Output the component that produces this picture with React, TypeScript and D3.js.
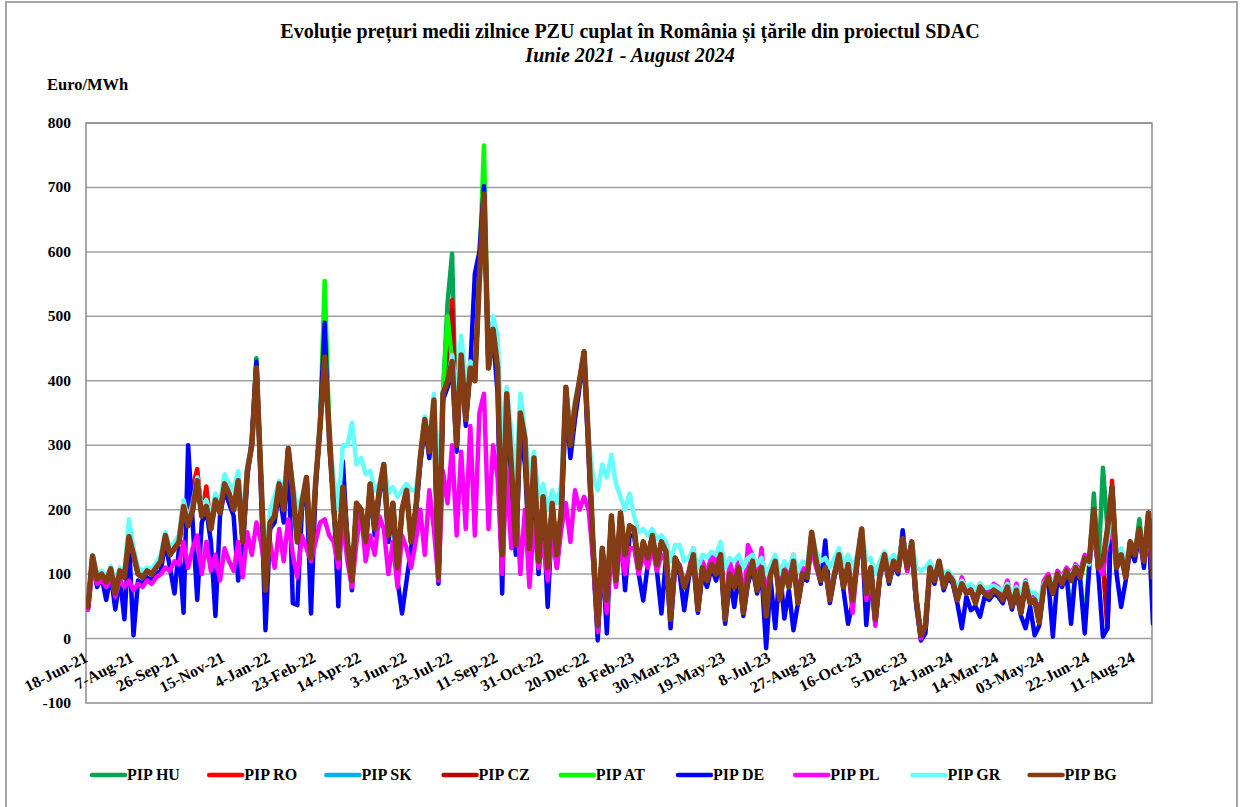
import React from 'react';
import * as d3 from 'd3';

// ---- categories ----
const START = new Date(2021, 5, 18);
const STEP_DAYS = 5;
const END_DAY = 1170;
const TICK_STEP_DAYS = 50;
const TICK_LABELS = ['18-Jun-21', '7-Aug-21', '26-Sep-21', '15-Nov-21', '4-Jan-22', '23-Feb-22', '14-Apr-22', '3-Jun-22', '23-Jul-22', '11-Sep-22', '31-Oct-22', '20-Dec-22', '8-Feb-23', '30-Mar-23', '19-May-23', '8-Jul-23', '27-Aug-23', '16-Oct-23', '5-Dec-23', '24-Jan-24', '14-Mar-24', '03-May-24', '22-Jun-24', '11-Aug-24'];
const Y_TICKS = [-100, 0, 100, 200, 300, 400, 500, 600, 700, 800];

// ---- series (Euro/MWh, one value every 5 days) ----
const BG = [
  50, 128, 92, 100, 88, 108, 70, 105, 95, 158,
  130, 100, 95, 105, 100, 110, 120, 160, 130, 140,
  150, 205, 175, 200, 245, 190, 205, 170, 215, 195,
  240, 225, 200, 245, 150, 260, 300, 420, 250, 75,
  180, 190, 240, 200, 295, 230, 150, 210, 250, 125,
  240, 330, 437, 320, 200, 125, 235, 150, 90, 210,
  200, 150, 240, 170, 230, 270, 160, 210, 110, 200,
  230, 150, 200, 280, 340, 290, 370, 95, 380, 400,
  430, 300, 440, 340, 420, 400, 560, 690, 420, 480,
  420, 130, 380, 270, 145, 350, 310, 140, 280, 120,
  220, 110, 210, 130, 200, 390, 300, 360, 400, 445,
  300, 140, 20, 140, 60, 190, 90, 195, 130, 175,
  170, 110, 150, 125, 160, 115, 150, 135, 30, 125,
  110, 80, 100, 130, 45, 110, 90, 115, 100, 130,
  30, 100, 80, 110, 40, 95, 120, 75, 110, 35,
  100, 120, 60, 105, 80, 120, 55, 100, 95, 165,
  120, 90, 110, 60, 100, 130, 80, 115, 60, 120,
  170, 70, 110, 30, 100, 130, 90, 120, 105, 155,
  110, 150, 60, 5, 20, 110, 90, 120, 80, 100,
  90, 60, 85, 70, 75, 55, 80, 70, 65, 75,
  70, 60, 80, 50, 75, 40, 85, 55, 60, 25,
  80, 95, 70, 100, 85, 105, 90, 110, 95, 125,
  120, 200, 110, 120, 170, 235, 110, 130, 95, 150,
  130, 170, 120, 195, 95,
];

const HU = [
  50, 128, 92, 100, 88, 108, 70, 105, 95, 158,
  130, 100, 95, 105, 100, 110, 120, 160, 130, 140,
  150, 205, 175, 200, 245, 190, 205, 170, 215, 195,
  240, 225, 200, 245, 150, 260, 300, 435, 250, 75,
  180, 190, 240, 200, 295, 230, 150, 210, 250, 125,
  240, 330, 500, 320, 200, 125, 235, 150, 90, 210,
  200, 150, 240, 170, 230, 270, 160, 210, 110, 200,
  230, 150, 200, 280, 340, 290, 370, 95, 380, 521,
  597, 300, 440, 340, 420, 400, 560, 690, 420, 480,
  420, 130, 380, 270, 145, 350, 310, 140, 280, 120,
  220, 110, 210, 130, 200, 390, 300, 360, 400, 445,
  300, 140, 20, 140, 60, 190, 90, 195, 130, 175,
  170, 110, 150, 125, 160, 115, 150, 135, 30, 125,
  110, 80, 100, 130, 45, 110, 90, 115, 100, 130,
  30, 100, 80, 110, 40, 95, 120, 75, 110, 35,
  100, 120, 60, 105, 80, 120, 55, 100, 95, 165,
  120, 90, 110, 60, 100, 130, 80, 115, 60, 120,
  170, 70, 110, 30, 100, 130, 90, 120, 105, 155,
  110, 150, 60, 5, 20, 110, 90, 120, 80, 100,
  90, 60, 85, 70, 75, 55, 80, 70, 65, 75,
  70, 60, 80, 50, 75, 40, 85, 55, 60, 25,
  80, 95, 70, 100, 85, 105, 90, 110, 95, 125,
  120, 225, 110, 265, 170, 235, 110, 130, 95, 150,
  130, 185, 120, 195, 95,
];

const RO = [
  50, 128, 92, 100, 88, 108, 70, 105, 95, 158,
  130, 100, 95, 105, 100, 110, 120, 160, 130, 140,
  150, 205, 175, 236, 263, 190, 236, 170, 215, 195,
  240, 225, 200, 245, 150, 260, 300, 420, 250, 75,
  180, 190, 240, 200, 295, 230, 150, 210, 250, 125,
  240, 330, 450, 320, 200, 125, 235, 150, 90, 210,
  200, 150, 240, 170, 230, 270, 160, 210, 110, 200,
  230, 150, 200, 280, 340, 290, 370, 95, 380, 400,
  525, 300, 440, 340, 420, 400, 560, 690, 420, 480,
  420, 130, 380, 270, 145, 350, 310, 140, 280, 120,
  220, 110, 210, 130, 200, 390, 300, 360, 400, 445,
  300, 140, 20, 140, 60, 190, 90, 195, 130, 175,
  170, 110, 150, 125, 160, 115, 150, 135, 30, 125,
  110, 80, 100, 130, 45, 110, 90, 115, 100, 130,
  30, 100, 80, 110, 40, 95, 120, 75, 110, 35,
  100, 120, 60, 105, 80, 120, 55, 100, 95, 165,
  120, 90, 110, 60, 100, 130, 80, 115, 60, 120,
  170, 70, 110, 30, 100, 130, 90, 120, 105, 155,
  110, 150, 60, 5, 20, 110, 90, 120, 80, 100,
  90, 60, 85, 70, 75, 55, 80, 70, 65, 75,
  70, 60, 80, 50, 75, 40, 85, 55, 60, 25,
  80, 95, 70, 100, 85, 105, 90, 110, 95, 125,
  120, 200, 110, 120, 15, 245, 110, 130, 95, 150,
  130, 170, 120, 195, 95,
];

const SK = [
  50, 128, 92, 100, 88, 108, 70, 105, 95, 158,
  130, 100, 95, 105, 100, 110, 120, 160, 130, 140,
  150, 205, 175, 200, 245, 190, 205, 170, 215, 195,
  240, 225, 200, 245, 150, 260, 300, 420, 250, 75,
  180, 190, 240, 200, 295, 230, 150, 210, 250, 125,
  240, 330, 460, 320, 200, 125, 235, 150, 90, 210,
  200, 150, 240, 170, 230, 270, 160, 210, 110, 200,
  230, 150, 200, 280, 340, 290, 370, 95, 380, 480,
  505, 300, 440, 340, 420, 400, 560, 690, 420, 480,
  420, 130, 380, 270, 145, 350, 310, 140, 280, 120,
  220, 110, 210, 130, 200, 390, 300, 360, 400, 445,
  300, 140, 20, 140, 60, 190, 90, 195, 130, 175,
  170, 110, 150, 125, 160, 115, 150, 135, 30, 125,
  110, 80, 100, 130, 45, 110, 90, 115, 100, 130,
  30, 100, 80, 110, 40, 95, 120, 75, 110, 35,
  100, 120, 60, 105, 80, 120, 55, 100, 95, 165,
  120, 90, 110, 60, 100, 130, 80, 115, 60, 120,
  170, 70, 110, 30, 100, 130, 90, 120, 105, 155,
  110, 150, 60, 5, 20, 110, 90, 120, 80, 100,
  90, 60, 85, 70, 75, 55, 80, 70, 65, 75,
  70, 60, 80, 50, 75, 40, 85, 55, 60, 25,
  80, 95, 70, 100, 85, 105, 90, 110, 95, 125,
  120, 200, 110, 120, 170, 235, 110, 130, 95, 150,
  130, 170, 120, 195, 95,
];

const CZ = [
  50, 128, 92, 100, 88, 108, 70, 105, 95, 158,
  130, 100, 95, 105, 100, 110, 120, 160, 130, 140,
  150, 205, 175, 200, 245, 190, 205, 170, 215, 195,
  240, 225, 200, 245, 150, 260, 300, 420, 250, 75,
  180, 190, 240, 200, 295, 230, 150, 210, 250, 125,
  240, 330, 437, 320, 200, 125, 235, 150, 90, 210,
  200, 150, 240, 170, 230, 270, 160, 210, 110, 200,
  230, 150, 200, 280, 340, 290, 370, 95, 380, 400,
  510, 300, 440, 340, 420, 400, 560, 690, 420, 480,
  420, 130, 380, 270, 145, 350, 310, 140, 280, 120,
  220, 110, 210, 130, 200, 390, 300, 360, 400, 445,
  300, 140, 20, 140, 60, 190, 90, 195, 130, 175,
  170, 110, 150, 125, 160, 115, 150, 135, 30, 125,
  110, 80, 100, 130, 45, 110, 90, 115, 100, 130,
  30, 100, 80, 110, 40, 95, 120, 75, 110, 35,
  100, 120, 60, 105, 80, 120, 55, 100, 95, 165,
  120, 90, 110, 60, 100, 130, 80, 115, 60, 120,
  170, 70, 110, 30, 100, 130, 90, 120, 105, 155,
  110, 150, 60, 5, 20, 110, 90, 120, 80, 100,
  90, 60, 85, 70, 75, 55, 80, 70, 65, 75,
  70, 60, 80, 50, 75, 40, 85, 55, 60, 25,
  80, 95, 70, 100, 85, 105, 90, 110, 95, 125,
  120, 200, 110, 120, 20, 235, 110, 130, 95, 150,
  130, 170, 120, 195, 95,
];

const AT = [
  50, 128, 92, 100, 88, 108, 70, 105, 95, 158,
  130, 100, 95, 105, 100, 110, 120, 160, 130, 140,
  150, 205, 175, 200, 245, 190, 205, 170, 215, 195,
  240, 225, 200, 245, 150, 260, 300, 430, 250, 75,
  180, 190, 240, 200, 295, 230, 150, 210, 250, 125,
  240, 330, 555, 320, 200, 125, 235, 150, 90, 210,
  200, 150, 240, 170, 230, 270, 160, 210, 110, 200,
  230, 150, 200, 280, 340, 290, 370, 95, 380, 500,
  430, 300, 440, 340, 420, 400, 575, 765, 420, 480,
  420, 130, 380, 270, 145, 350, 310, 140, 280, 120,
  220, 110, 210, 130, 200, 390, 300, 360, 400, 445,
  300, 140, 20, 140, 60, 190, 90, 195, 130, 175,
  170, 110, 150, 125, 160, 115, 150, 135, 30, 125,
  110, 80, 100, 130, 45, 110, 90, 115, 100, 130,
  30, 100, 80, 110, 40, 95, 120, 75, 110, 35,
  100, 120, 60, 105, 80, 120, 55, 100, 95, 165,
  120, 90, 110, 60, 100, 130, 80, 115, 60, 120,
  170, 70, 110, 30, 100, 130, 90, 120, 105, 155,
  110, 150, 60, 5, 20, 110, 90, 120, 80, 100,
  90, 60, 85, 70, 75, 55, 80, 70, 65, 75,
  70, 60, 80, 50, 75, 40, 85, 55, 60, 25,
  80, 95, 70, 100, 85, 105, 30, 110, 95, 20,
  120, 200, 110, 120, 170, 235, 110, 130, 95, 150,
  130, 170, 120, 195, 95,
];

const DE = [
  45, 120, 80, 95, 60, 100, 45, 95, 30, 150,
  5, 90, 85, 95, 90, 100, 105, 150, 110, 70,
  140, 40, 300, 180, 60, 180, 200, 150, 35, 190,
  230, 210, 190, 90, 140, 250, 310, 430, 230, 13,
  170, 180, 230, 180, 290, 55, 52, 200, 240, 39,
  230, 340, 490, 300, 210, 50, 275, 150, 75, 200,
  190, 140, 230, 160, 220, 260, 150, 200, 91, 39,
  90, 140, 190, 270, 330, 280, 360, 85, 370, 390,
  420, 290, 430, 330, 420, 566, 600, 702, 420, 470,
  380, 70, 360, 250, 130, 320, 270, 130, 230, 100,
  200, 49, 190, 110, 180, 370, 280, 340, 390, 430,
  280, 120, -3, 130, 8, 170, 90, 180, 75, 160,
  160, 100, 59, 115, 150, 105, 39, 125, 16, 110,
  100, 44, 95, 120, 40, 100, 80, 110, 90, 120,
  23, 90, 49, 100, 35, 85, 110, 70, 100, -15,
  90, 16, 110, 31, 75, 13, 55, 95, 90, 150,
  115, 85, 152, 55, 95, 125, 75, 23, 55, 115,
  165, 21, 100, 25, 95, 125, 85, 115, 100, 168,
  105, 140, 50, -3, 8, 105, 85, 115, 75, 95,
  85, 55, 16, 65, 44, 50, 34, 65, 60, 70,
  65, 55, 75, 45, 70, 35, 16, 50, 5, 20,
  80, 90, 3, 95, 80, 100, 23, 105, 90, 8,
  110, 190, 100, 3, 16, 220, 100, 49, 90, 140,
  120, 160, 110, 180, 23,
];

const PL = [
  45, 110, 85, 90, 80, 95, 65, 90, 80, 90,
  75, 85, 80, 90, 85, 95, 100, 110, 105, 120,
  115, 150, 110, 140, 160, 100, 150, 105, 130, 90,
  140, 120, 105, 150, 95, 165, 130, 180, 150, 100,
  150, 110, 170, 120, 185, 130, 95, 160, 140, 120,
  150, 180, 185, 160, 150, 110, 180, 120, 80, 150,
  200, 120, 160, 130, 190, 170, 100, 150, 80, 160,
  140, 110, 150, 200, 130, 230, 170, 90, 260, 210,
  300, 160, 290, 170, 330, 160, 350, 380, 170, 300,
  250, 100, 260, 140, 230, 100, 200, 80, 180, 110,
  150, 90, 160, 110, 170, 210, 150, 230, 200, 220,
  200, 120, 10, 120, 40, 140, 80, 150, 100, 140,
  140, 100, 130, 110, 140, 105, 130, 120, 30, 115,
  115, 80, 105, 140, 50, 120, 100, 130, 115, 140,
  40, 120, 90, 125, 50, 145, 130, 80, 140, 60,
  110, 125, 70, 115, 90, 130, 60, 110, 100, 140,
  110, 90, 105, 60, 100, 120, 85, 110, 40, 115,
  160, 60, 90, 20, 100, 125, 90, 115, 105, 145,
  105, 135, 60, 0, 20, 115, 90, 120, 85, 100,
  90, 70, 95, 75, 80, 65, 85, 75, 70, 85,
  80, 70, 90, 60, 85, 55, 90, 65, 70, 45,
  90, 100, 80, 105, 95, 110, 100, 115, 105, 130,
  125, 160, 110, 100, 150, 170, 115, 130, 100, 150,
  140, 150, 120, 160, 100,
];

const GR = [
  55, 130, 100, 105, 95, 112, 85, 110, 100, 185,
  140, 110, 105, 110, 108, 118, 130, 165, 140, 150,
  160, 215, 185, 210, 250, 205, 215, 190, 225, 210,
  255, 240, 230, 260, 180, 270, 300, 410, 260, 110,
  200, 220, 245, 230, 290, 240, 200, 220, 250, 160,
  240, 340, 420, 310, 250, 200, 300, 300, 335, 270,
  280, 255, 260, 230, 240, 270, 225, 235, 220, 230,
  240, 230, 230, 280, 345, 300, 380, 250, 385, 400,
  440, 380, 470, 400, 430, 420, 540, 680, 440, 500,
  470, 300, 390, 320, 250, 380, 320, 250, 290, 220,
  240, 200, 230, 210, 240, 390, 320, 370, 400, 440,
  310, 250, 230, 270, 250, 285, 240, 220, 200, 225,
  190, 165, 170, 160, 170, 155, 160, 150, 120, 145,
  145, 120, 125, 140, 110, 130, 125, 135, 130, 150,
  110, 125, 120, 130, 110, 125, 130, 115, 125, 100,
  115, 130, 100, 120, 110, 130, 105, 120, 115, 165,
  135, 120, 125, 110, 125, 140, 115, 130, 110, 130,
  170, 120, 125, 100, 120, 135, 115, 130, 120, 155,
  125, 150, 110, 105, 110, 120, 100, 120, 100, 105,
  95, 80, 90, 80, 85, 75, 85, 78, 80, 82,
  78, 75, 85, 70, 80, 70, 88, 70, 72, 60,
  85, 95, 85, 100, 95, 105, 98, 112, 100, 125,
  115, 190, 110, 125, 150, 210, 125, 140, 120, 145,
  135, 165, 125, 185, 100,
];

const SERIES_NAMES = ['PIP HU', 'PIP RO', 'PIP SK', 'PIP CZ', 'PIP AT', 'PIP DE', 'PIP PL', 'PIP GR', 'PIP BG'];
const SERIES_VALUES = [HU, RO, SK, CZ, AT, DE, PL, GR, BG];
const SERIES_COLORS = ['#00A651', '#FF0000', '#00B0F0', '#C00000', '#00FF00', '#0000FF', '#FF00FF', '#66FFFF', '#843C14'];

const TITLE = 'Evoluție prețuri medii zilnice PZU cuplat în România și țările din proiectul SDAC';
const SUBTITLE = 'Iunie 2021 - August 2024';
const Y_UNIT = 'Euro/MWh';

export default function App() {
  const W = 1242;
  const H = 807;
  const plot = { left: 86, right: 1152, top: 123, bottom: 703 };
  const font = '"Liberation Serif", "Times New Roman", serif';

  const x = d3
    .scaleTime()
    .domain([START, d3.timeDay.offset(START, END_DAY)])
    .range([88, 1153]);
  const y = d3.scaleLinear().domain([-100, 800]).range([plot.bottom, plot.top]);

  const dates = BG.map((_, i) => d3.timeDay.offset(START, i * STEP_DAYS));
  const line = d3
    .line<number>()
    .x((_, i) => x(dates[i]))
    .y((v) => y(v));

  const tickDates = TICK_LABELS.map((_, k) => d3.timeDay.offset(START, k * TICK_STEP_DAYS));

  return (
    <svg
      width={W}
      height={H}
      style={{ position: 'absolute', left: 0, top: 0, background: '#fff' }}
      fontFamily={font}
    >
      <rect x={6} y={2} width={1231} height={806} fill="#fff" stroke="#A6A6A6" strokeWidth={2} />
      <defs>
        <clipPath id="plotclip">
          <rect x={plot.left} y={plot.top - 2} width={plot.right - plot.left} height={plot.bottom - plot.top + 2} />
        </clipPath>
      </defs>

      <text x={630} y={38} textAnchor="middle" fontSize={20} fontWeight="bold">
        {TITLE}
      </text>
      <text x={630} y={62} textAnchor="middle" fontSize={20} fontWeight="bold" fontStyle="italic">
        {SUBTITLE}
      </text>
      <text x={47} y={90} fontSize={16.5} fontWeight="bold">
        {Y_UNIT}
      </text>

      {Y_TICKS.filter((v) => v > -100).map((v) => (
        <line key={'g' + v} x1={plot.left} x2={plot.right} y1={y(v)} y2={y(v)} stroke="#A0A0A0" strokeWidth={1.5} />
      ))}
      <rect
        x={plot.left}
        y={plot.top}
        width={plot.right - plot.left}
        height={plot.bottom - plot.top}
        fill="none"
        stroke="#8C8C8C"
        strokeWidth={1.5}
      />

      {Y_TICKS.map((v) => (
        <text key={'yl' + v} x={71} y={y(v) + 5} textAnchor="end" fontSize={15.5} fontWeight="bold">
          {v}
        </text>
      ))}

      <g clipPath="url(#plotclip)">
        {SERIES_VALUES.map((vals, s) => (
          <path
            key={SERIES_NAMES[s]}
            d={line(vals) || ''}
            fill="none"
            stroke={SERIES_COLORS[s]}
            strokeWidth={s === 8 ? 5.5 : 4.5}
            strokeLinejoin="round"
            strokeLinecap="round"
          />
        ))}
      </g>

      {TICK_LABELS.map((lab, k) => (
        <text
          key={lab}
          transform={`translate(${x(tickDates[k]) + 1},${661}) rotate(-27)`}
          textAnchor="end"
          fontSize={16}
          fontWeight="bold"
        >
          {lab}
        </text>
      ))}

      {SERIES_NAMES.map((name, s) => {
        const lx = 92 + s * 117.2;
        return (
          <g key={'lg' + name}>
            <line x1={lx} x2={lx + 33} y1={775} y2={775} stroke={SERIES_COLORS[s]} strokeWidth={4.5} strokeLinecap="round" />
            <text x={lx + 35} y={780} fontSize={16} fontWeight="bold">
              {name}
            </text>
          </g>
        );
      })}
    </svg>
  );
}
